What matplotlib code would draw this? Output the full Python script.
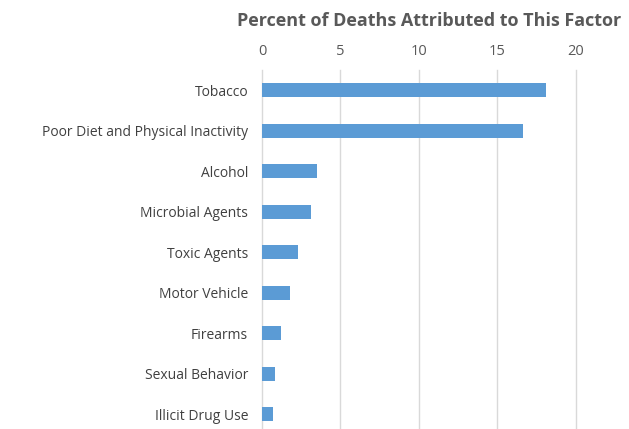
import matplotlib.pyplot as plt

# share of deaths attributed to each factor (%)
factors = ['Tobacco', 'Poor Diet and Physical Inactivity', 'Alcohol',
           'Microbial Agents', 'Toxic Agents', 'Motor Vehicle', 'Firearms',
           'Sexual Behavior', 'Illicit Drug Use']
percent = [18.1, 16.6, 3.5, 3.1, 2.3, 1.8, 1.2, 0.8, 0.7]
xticks = [0, 5, 10, 15, 20]

plt.rcParams['font.family'] = ['Open Sans', 'DejaVu Sans']

fig = plt.figure(figsize=(6.29, 4.29), dpi=100)
ax = fig.add_axes([0.4165, -0.0128, 0.4992, 0.8496])

pos = list(range(len(factors)))
ax.barh(pos, percent, height=0.35, color='#5b9bd5', zorder=3)

ax.set_ylim(len(factors) - 0.5, -0.5)
ax.set_xlim(0, 20)
ax.set_xticks(xticks)
ax.set_yticks(pos)
ax.set_yticklabels(factors, fontsize=10, color='#404040')
ax.xaxis.tick_top()
ax.tick_params(axis='x', labelsize=10.5, colors='#595959', length=0, pad=8)
ax.tick_params(axis='y', length=0, pad=10)
for s in ax.spines.values():
    s.set_visible(False)
# vertical gridlines, drawn unclipped so the one at 20 stays visible
for t in xticks:
    ax.axvline(t, color='#d9d9d9', linewidth=1, zorder=0, clip_on=False)

fig.text(0.683, 0.952, 'Percent of Deaths Attributed to This Factor',
         ha='center', va='center', fontsize=13, fontweight='bold',
         color='#595959')

fig.savefig('out.png', dpi=100)
